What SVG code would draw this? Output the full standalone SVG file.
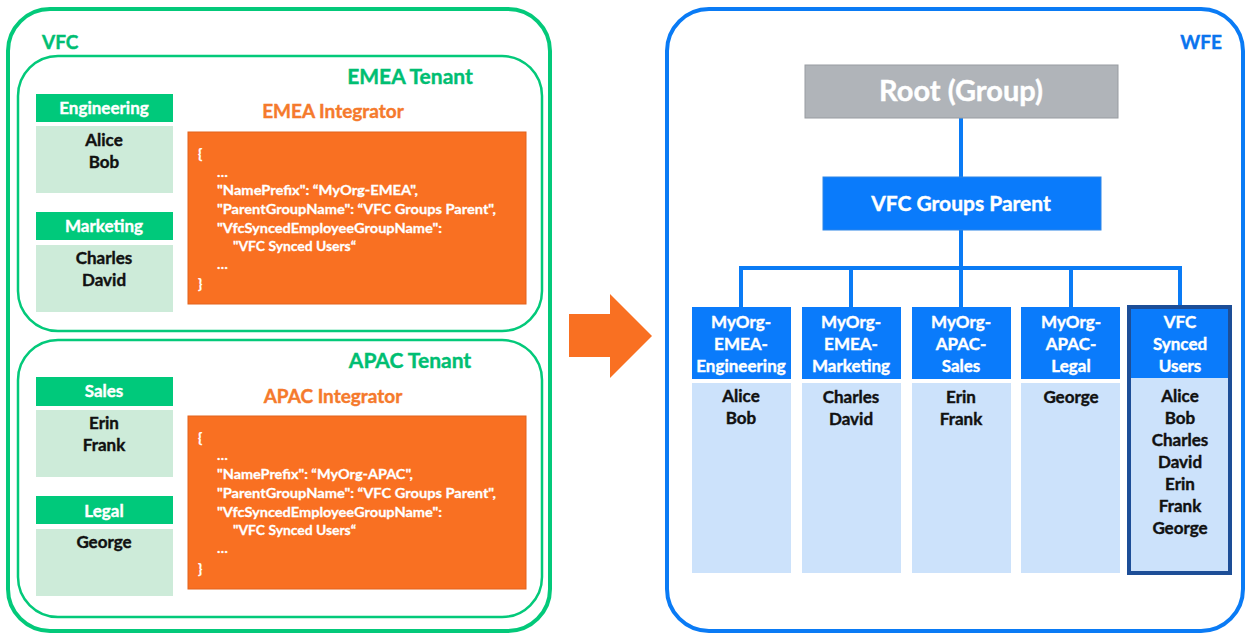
<svg xmlns="http://www.w3.org/2000/svg" width="1246" height="635" viewBox="0 0 1246 635">
<style>
text{font-family:Lato,"Liberation Sans",Arial,sans-serif;font-weight:bold}
.gframe{fill:none;stroke:#03C97A}
.ghead{fill:#00C97B}
.gbody{fill:#CDEBD9}
.gtitle{fill:#00BE72;stroke:#00BE72;stroke-width:0.4}
.wht{fill:#FFFFFF;stroke:#FFFFFF;stroke-width:0.4}
.blk{fill:#111111;stroke:#111111;stroke-width:0.4}
.otitle{fill:#F57A2C;stroke:#F57A2C;stroke-width:0.4}
.obox{fill:#F97022;stroke:#E2631C;stroke-width:1}
.code{fill:#FFFFFF;font-size:14px;stroke:#FFFFFF;stroke-width:0.3}
.bhead{fill:#0A7BFB}
.bbody{fill:#CCE2FB}
.conn{fill:none;stroke:#0A7BF5;stroke-width:4}
.mid{text-anchor:middle}
</style>
<rect width="1246" height="635" fill="#FFFFFF"/>

<g id="vfc">
<rect class="gframe" x="8" y="9" width="542" height="622" rx="42" stroke-width="4"/>
<text class="gtitle" x="42" y="49" font-size="19">VFC</text>
</g>

<g id="emea-tenant">
<rect class="gframe" x="18" y="56" width="524" height="275" rx="40" stroke-width="2.5"/>
<text class="gtitle mid" x="410" y="84" font-size="21">EMEA Tenant</text>
</g>

<g id="engineering">
<rect class="ghead" x="36" y="94" width="137" height="28"/>
<text class="wht mid" x="104" y="114" font-size="17">Engineering</text>
<rect class="gbody" x="36" y="126" width="137" height="67"/>
<text class="blk mid" x="104" y="146" font-size="17">Alice</text>
<text class="blk mid" x="104" y="168" font-size="17">Bob</text>
</g>

<g id="marketing">
<rect class="ghead" x="36" y="212" width="137" height="28"/>
<text class="wht mid" x="104" y="232" font-size="17">Marketing</text>
<rect class="gbody" x="36" y="245" width="137" height="67"/>
<text class="blk mid" x="104" y="264" font-size="17">Charles</text>
<text class="blk mid" x="104" y="286" font-size="17">David</text>
</g>

<g id="emea-integrator">
<text class="otitle mid" x="333" y="118" font-size="19">EMEA Integrator</text>
<rect class="obox" x="188" y="132" width="338" height="172"/>
<text class="code" x="198" y="159" font-size="16">{</text>
<text class="code" x="217" y="177">…</text>
<text class="code" x="217" y="195" textLength="201" lengthAdjust="spacingAndGlyphs">"NamePrefix": “MyOrg-EMEA",</text>
<text class="code" x="217" y="214" textLength="279" lengthAdjust="spacingAndGlyphs">"ParentGroupName": “VFC Groups Parent",</text>
<text class="code" x="217" y="233" textLength="225" lengthAdjust="spacingAndGlyphs">"VfcSyncedEmployeeGroupName":</text>
<text class="code" x="233" y="251" textLength="123" lengthAdjust="spacingAndGlyphs">"VFC Synced Users“</text>
<text class="code" x="217" y="269">…</text>
<text class="code" x="198" y="289" font-size="16">}</text>
</g>

<g id="apac-tenant">
<rect class="gframe" x="18" y="340" width="524" height="277" rx="40" stroke-width="2.5"/>
<text class="gtitle mid" x="410" y="368" font-size="21">APAC Tenant</text>
</g>

<g id="sales">
<rect class="ghead" x="36" y="377" width="137" height="29"/>
<text class="wht mid" x="104" y="397" font-size="17">Sales</text>
<rect class="gbody" x="36" y="410" width="137" height="67"/>
<text class="blk mid" x="104" y="429" font-size="17">Erin</text>
<text class="blk mid" x="104" y="451" font-size="17">Frank</text>
</g>

<g id="legal">
<rect class="ghead" x="36" y="496" width="137" height="28"/>
<text class="wht mid" x="104" y="517" font-size="17">Legal</text>
<rect class="gbody" x="36" y="529" width="137" height="67"/>
<text class="blk mid" x="104" y="548" font-size="17">George</text>
</g>

<g id="apac-integrator">
<text class="otitle mid" x="333" y="403" font-size="19">APAC Integrator</text>
<rect class="obox" x="188" y="416" width="338" height="173"/>
<text class="code" x="198" y="443" font-size="16">{</text>
<text class="code" x="217" y="460">…</text>
<text class="code" x="217" y="479" textLength="196" lengthAdjust="spacingAndGlyphs">"NamePrefix": “MyOrg-APAC",</text>
<text class="code" x="217" y="498" textLength="279" lengthAdjust="spacingAndGlyphs">"ParentGroupName": “VFC Groups Parent",</text>
<text class="code" x="217" y="517" textLength="225" lengthAdjust="spacingAndGlyphs">"VfcSyncedEmployeeGroupName":</text>
<text class="code" x="233" y="535" textLength="123" lengthAdjust="spacingAndGlyphs">"VFC Synced Users“</text>
<text class="code" x="217" y="553">…</text>
<text class="code" x="198" y="574" font-size="16">}</text>
</g>

<g id="transfer-arrow">
<polygon points="569,314 610,314 610,294 652,336 610,378 610,357 569,357" fill="#F97022"/>
</g>

<g id="wfe">
<rect x="667" y="9" width="576" height="622" rx="42" fill="none" stroke="#0A7BF5" stroke-width="4"/>
<text x="1222" y="49" font-size="19" fill="#0A74EE" stroke="#0A74EE" stroke-width="0.4" text-anchor="end">WFE</text>
</g>

<g id="connectors">
<line class="conn" x1="961" y1="118" x2="961" y2="177"/>
<line class="conn" x1="961" y1="230" x2="961" y2="268"/>
<polyline class="conn" points="741,307 741,268 1180,268 1180,305"/>
<line class="conn" x1="851" y1="268" x2="851" y2="307"/>
<line class="conn" x1="961" y1="268" x2="961" y2="307"/>
<line class="conn" x1="1071" y1="268" x2="1071" y2="307"/>
</g>

<g id="root">
<rect x="805" y="65" width="313" height="53" fill="#B0B4B9" stroke="#989CA1" stroke-width="1"/>
<text class="wht mid" x="961" y="101" font-size="29">Root (Group)</text>
</g>

<g id="vfc-groups-parent">
<rect x="823" y="177" width="278" height="53" fill="#0A7BFB" stroke="#2F86E6" stroke-width="1"/>
<text class="wht mid" x="961" y="211" font-size="21">VFC Groups Parent</text>
</g>

<g id="myorg-emea-engineering">
<rect class="bhead" x="692" y="307" width="99" height="72"/>
<text class="wht mid" x="741" y="328" font-size="17">MyOrg-</text>
<text class="wht mid" x="741" y="350" font-size="17">EMEA-</text>
<text class="wht mid" x="741" y="372" font-size="17">Engineering</text>
<rect class="bbody" x="692" y="383" width="99" height="190"/>
<text class="blk mid" x="741" y="402" font-size="17">Alice</text>
<text class="blk mid" x="741" y="424" font-size="17">Bob</text>
</g>

<g id="myorg-emea-marketing">
<rect class="bhead" x="802" y="307" width="99" height="72"/>
<text class="wht mid" x="851" y="328" font-size="17">MyOrg-</text>
<text class="wht mid" x="851" y="350" font-size="17">EMEA-</text>
<text class="wht mid" x="851" y="372" font-size="17">Marketing</text>
<rect class="bbody" x="802" y="383" width="99" height="190"/>
<text class="blk mid" x="851" y="403" font-size="17">Charles</text>
<text class="blk mid" x="851" y="425" font-size="17">David</text>
</g>

<g id="myorg-apac-sales">
<rect class="bhead" x="912" y="307" width="99" height="72"/>
<text class="wht mid" x="961" y="328" font-size="17">MyOrg-</text>
<text class="wht mid" x="961" y="350" font-size="17">APAC-</text>
<text class="wht mid" x="961" y="372" font-size="17">Sales</text>
<rect class="bbody" x="912" y="383" width="99" height="190"/>
<text class="blk mid" x="961" y="403" font-size="17">Erin</text>
<text class="blk mid" x="961" y="425" font-size="17">Frank</text>
</g>

<g id="myorg-apac-legal">
<rect class="bhead" x="1021" y="307" width="99" height="72"/>
<text class="wht mid" x="1071" y="328" font-size="17">MyOrg-</text>
<text class="wht mid" x="1071" y="350" font-size="17">APAC-</text>
<text class="wht mid" x="1071" y="372" font-size="17">Legal</text>
<rect class="bbody" x="1021" y="383" width="99" height="190"/>
<text class="blk mid" x="1071" y="403" font-size="17">George</text>
</g>

<g id="vfc-synced-users">
<rect class="bbody" x="1129" y="307" width="101" height="266"/>
<rect class="bhead" x="1129" y="307" width="101" height="71"/>
<rect x="1129" y="307" width="101" height="266" fill="none" stroke="#1D4E97" stroke-width="4"/>
<text class="wht mid" x="1180" y="328" font-size="17">VFC</text>
<text class="wht mid" x="1180" y="350" font-size="17">Synced</text>
<text class="wht mid" x="1180" y="372" font-size="17">Users</text>
<text class="blk mid" x="1180" y="402" font-size="17">Alice</text>
<text class="blk mid" x="1180" y="424" font-size="17">Bob</text>
<text class="blk mid" x="1180" y="446" font-size="17">Charles</text>
<text class="blk mid" x="1180" y="468" font-size="17">David</text>
<text class="blk mid" x="1180" y="490" font-size="17">Erin</text>
<text class="blk mid" x="1180" y="512" font-size="17">Frank</text>
<text class="blk mid" x="1180" y="534" font-size="17">George</text>
</g>
</svg>
